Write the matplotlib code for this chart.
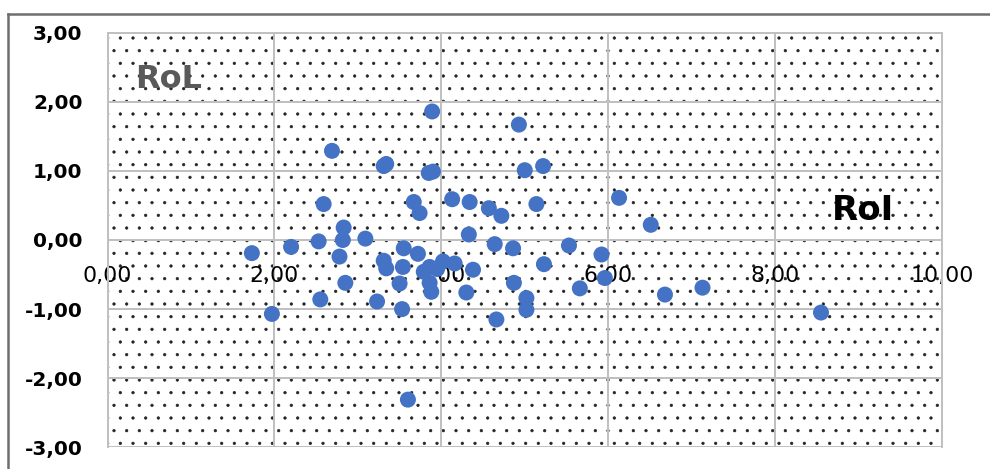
import matplotlib
matplotlib.use('Agg')
import matplotlib.pyplot as plt
from matplotlib.lines import Line2D
from matplotlib.patches import Rectangle
import numpy as np

# RoI (x) vs RoL (y)
roi = [1.73, 1.97, 2.20, 2.53, 2.59, 2.69, 2.55, 2.78, 2.82, 2.83,
       2.85, 3.09, 3.23, 3.31, 3.34, 3.31, 3.34, 3.55, 3.72, 3.54,
       3.50, 3.53, 3.60, 3.67, 3.74, 3.89, 3.85, 3.90, 3.79, 3.86,
       4.02, 4.16, 3.86, 3.88, 4.38, 4.30, 4.13, 4.34, 4.33, 4.57,
       4.72, 4.64, 4.86, 4.87, 4.66, 4.93, 5.00, 5.22, 5.14, 5.23,
       5.02, 5.02, 5.53, 5.92, 5.66, 5.96, 6.13, 6.51, 6.68, 7.13,
       8.55, 3.95]
rol = [-0.19, -1.07, -0.10, -0.02, 0.52, 1.29, -0.86, -0.24, 0.00, 0.18,
       -0.62, 0.02, -0.89, 1.07, 1.10, -0.30, -0.41, -0.12, -0.20, -0.39,
       -0.63, -1.00, -2.31, 0.55, 0.39, 1.86, 0.97, 0.99, -0.46, -0.39,
       -0.31, -0.34, -0.62, -0.75, -0.43, -0.76, 0.59, 0.55, 0.08, 0.46,
       0.35, -0.06, -0.12, -0.62, -1.15, 1.67, 1.01, 1.07, 0.52, -0.35,
       -0.84, -1.01, -0.08, -0.21, -0.70, -0.55, 0.61, 0.22, -0.79, -0.69,
       -1.05, -0.42]

x_ticks = [0, 2, 4, 6, 8, 10]
y_ticks = [-3, -2, -1, 0, 1, 2, 3]

DPI = 76
pt = 72 / DPI  # pixels -> points

plt.rcParams['hatch.color'] = '#222222'
plt.rcParams['hatch.linewidth'] = 0.6

fig = plt.figure(figsize=(990 / DPI, 469 / DPI), dpi=DPI)
ax = fig.add_axes([107.5 / 990, 21.7 / 469, 834.5 / 990, 414.6 / 469])

grid_c = '#c0c0c0'
ax.set_xlim(0, 10)
ax.set_ylim(-3, 3)

# dotted fill of the plot area
ax.add_patch(Rectangle((0, -3), 10, 6, transform=ax.transData,
                       facecolor='white', edgecolor='#222222', linewidth=0,
                       hatch='.', zorder=0))

ax.set_xticks(x_ticks)
ax.set_yticks(y_ticks)
ax.grid(True, color=grid_c, linewidth=2 * pt, zorder=1)
ax.set_axisbelow(True)

ax.spines['bottom'].set_position(('data', 0))
for s in ax.spines.values():
    s.set_color(grid_c)
    s.set_linewidth(2 * pt)

ax.set_xticklabels([f'{v:.2f}'.replace('.', ',') for v in x_ticks],
                   fontsize=22 * pt)
ax.set_yticklabels([f'{v:.2f}'.replace('.', ',') for v in y_ticks],
                   fontsize=20 * pt, fontweight='bold')
ax.tick_params(axis='x', length=0, pad=26 * pt)
ax.tick_params(axis='y', length=0, pad=25 * pt)

# the bottom frame line is hidden by the moved spine; redraw it
ax.axhline(-3, color=grid_c, linewidth=2 * pt, zorder=1)

ax.scatter(roi, rol, s=(16 * pt) ** 2, color='#4472c4', edgecolors='none',
           zorder=3)

ax.text(0.33, 2.20, 'RoL', fontsize=32 * pt, fontweight='bold',
        color='#5a5a5a', zorder=4)
ax.text(8.68, 0.29, 'RoI', fontsize=34 * pt, fontweight='bold',
        color='black', zorder=4)

# outer frame of the picture (top and left edges)
fig.add_artist(Line2D([8 / 990, 1.02], [1 - 14 / 469, 1 - 14 / 469],
                      color='#6e6e6e', linewidth=2.5 * pt))
fig.add_artist(Line2D([8 / 990, 8 / 990], [-0.02, 1 - 14 / 469],
                      color='#6e6e6e', linewidth=2.5 * pt))

fig.savefig('out.png', dpi=DPI, facecolor='white')
